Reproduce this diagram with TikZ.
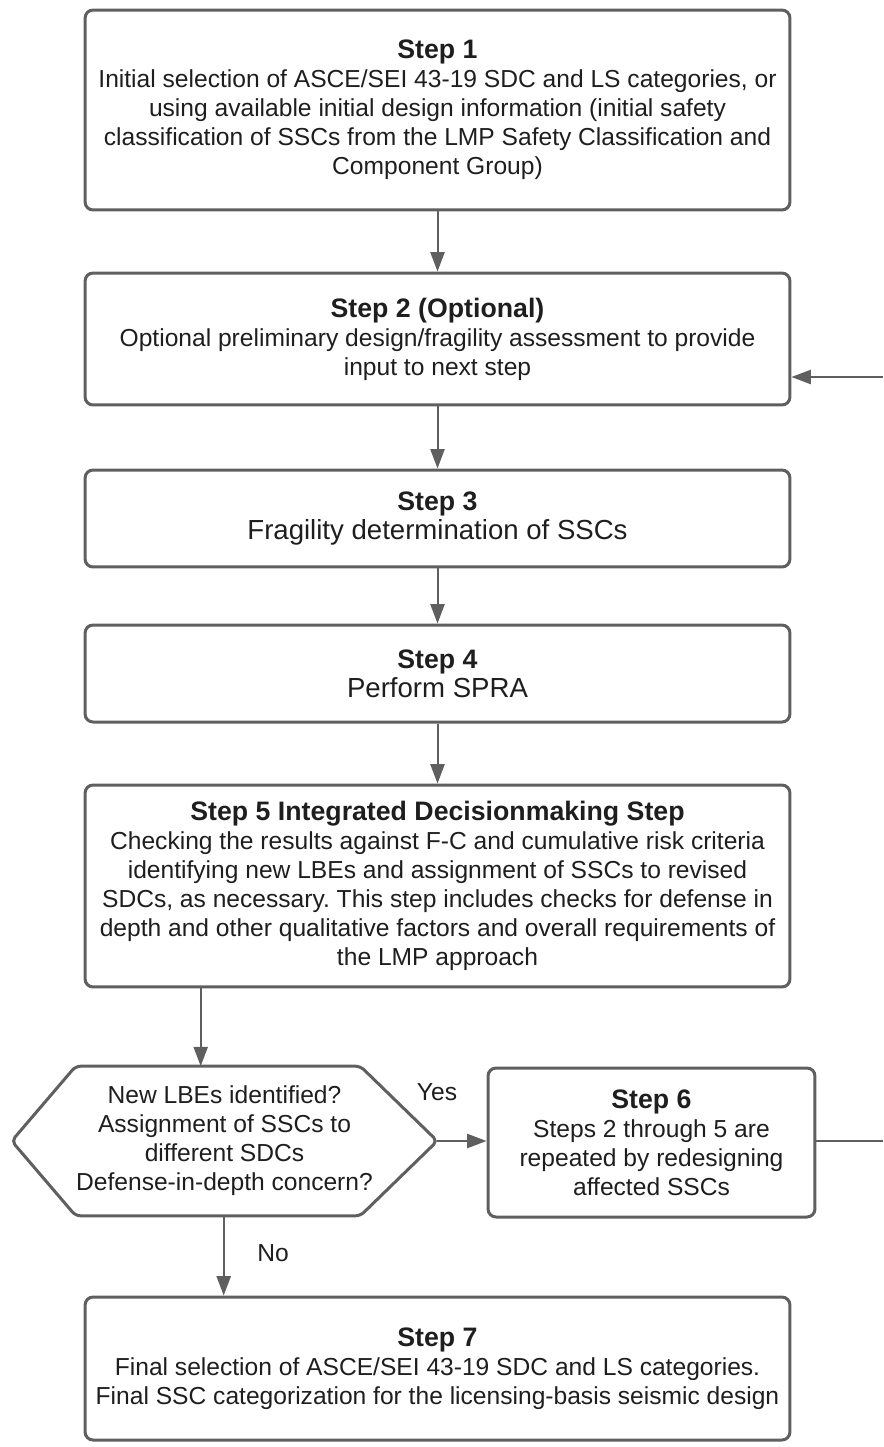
\documentclass[tikz,border=0pt]{standalone}
\usepackage{fontspec}
\setmainfont{Liberation Sans}
\usepackage{xcolor}
\usepackage{tikz}
\usetikzlibrary{arrows.meta,positioning,calc}
\definecolor{linegray}{RGB}{95,95,95}
\definecolor{txtgray}{RGB}{30,30,30}
\newcommand{\stephead}[1]{{\bfseries\fontsize{15.2}{18}\selectfont #1}}
\newcommand{\bigbody}[1]{{\fontsize{15.7}{18}\selectfont #1}}
\frenchspacing

\begin{document}
\begin{tikzpicture}[x=0.02cm,y=-0.02cm,
  stepbox/.style={draw=linegray,line width=0.06cm,rounded corners=0.16cm,align=center,text=txtgray,inner sep=0pt,font=\fontsize{14}{16.5}\selectfont},
  arr/.style={draw=linegray,line width=0.04cm,-{Triangle[length=11pt,width=8pt]}},
  lbl/.style={text=txtgray,font=\fontsize{14}{16.5}\selectfont}]
\useasboundingbox (0,0) rectangle (883,1447);
\node[stepbox,minimum width=14.1cm,minimum height=4cm] (s1) at (437.5,110)
  {\stephead{Step 1}\\ Initial selection of ASCE/SEI 43-19 SDC and LS categories, or\\ using available initial design information (initial safety\\ classification of SSCs from the LMP Safety Classification and\\ Component Group)};
\node[stepbox,minimum width=14.1cm,minimum height=2.64cm] (s2) at (437.5,339)
  {\stephead{Step 2 (Optional)}\\ Optional preliminary design/fragility assessment to provide\\ input to next step};
\node[stepbox,minimum width=14.1cm,minimum height=1.94cm] (s3) at (437.5,518.5)
  {\stephead{Step 3}\\ \bigbody{Fragility determination of SSCs}};
\node[stepbox,minimum width=14.1cm,minimum height=1.94cm] (s4) at (437.5,673.5)
  {\stephead{Step 4}\\ \bigbody{Perform SPRA}};
\node[stepbox,minimum width=14.1cm,minimum height=4.04cm] (s5) at (437.5,886)
  {\stephead{Step 5 Integrated Decisionmaking Step}\\ Checking the results against F-C and cumulative risk criteria\\ identifying new LBEs and assignment of SSCs to revised\\ SDCs, as necessary. This step includes checks for defense in\\ depth and other qualitative factors and overall requirements of\\ the LMP approach};
\node[lbl,align=center,minimum width=8.5cm,minimum height=2.98cm,inner sep=0pt] (hex) at (224.5,1141)
  {New LBEs identified?\\ Assignment of SSCs to\\ different SDCs\\ Defense-in-depth concern?};
\draw[draw=linegray,line width=0.06cm,rounded corners=0.1cm] (hex.west) -- ($(hex.north west)+(64,0)$) -- ($(hex.north east)+(-77,0)$) -- (hex.east) -- ($(hex.south east)+(-77,0)$) -- ($(hex.south west)+(64,0)$) -- cycle;
\node[stepbox,minimum width=6.54cm,minimum height=2.98cm] (s6) at (651.5,1142.5)
  {\stephead{Step 6}\\ Steps 2 through 5 are\\ repeated by redesigning\\ affected SSCs};
\node[stepbox,minimum width=14.1cm,minimum height=2.86cm] (s7) at (437.5,1368.5)
  {\stephead{Step 7}\\ Final selection of ASCE/SEI 43-19 SDC and LS categories.\\ Final SSC categorization for the licensing-basis seismic design};
\node[lbl] (yes) at (437,1092) {Yes};
\node[lbl] (no) at (273,1253) {No};
\coordinate (loopout) at (883,1141);
\coordinate (loopin) at (883,377);
\coordinate (hexin) at ($(hex.north west)+(189,0)$);
\coordinate (hexout) at ($(hex.south west)+(212,0)$);

\foreach \a/\b in {s1/s2,s2/s3,s3/s4,s4/s5}
  \draw[arr] (\a) -- (\b);
\draw[arr] (hexin |- s5.south) -- (hexin);
\draw[arr] (hexout) -- (hexout |- s7.north);
\draw[arr] (hex.east) -- (hex.east -| s6.west);
\draw[draw=linegray,line width=0.04cm] (loopout -| s6.east) -- (loopout);
\draw[arr] (loopin) -- (loopin -| s2.east);
\end{tikzpicture}
\end{document}
